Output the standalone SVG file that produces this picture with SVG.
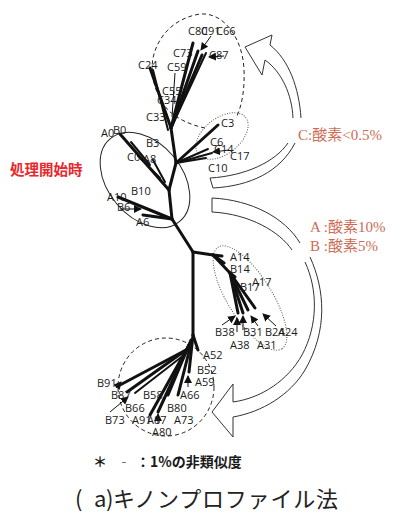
<svg xmlns="http://www.w3.org/2000/svg" width="398" height="518" viewBox="0 0 398 518">
<defs>
<marker id="ah" markerWidth="8" markerHeight="8" refX="7" refY="4" orient="auto" markerUnits="userSpaceOnUse"><path d="M0,0 L8,4 L0,8 Z" fill="#111"/></marker>
<style>
.t{font-family:"Open Sans","Noto Sans",sans-serif;font-size:11px;fill:#1a1a1a}
.br{stroke:#111;stroke-width:3;stroke-linecap:round;fill:none}
.b2{stroke-width:2}
.thin{stroke:#111;stroke-width:1;fill:none}
.ar{marker-end:url(#ah)}
.big{fill:#fff;stroke:#333;stroke-width:1}
.note{font-family:"Liberation Serif","Noto Sans CJK JP",serif;font-size:15px;fill:#cd6b55}
.dash{fill:none;stroke:#222;stroke-width:1;stroke-dasharray:4 3}
.dot{fill:none;stroke:#555;stroke-width:1;stroke-dasharray:1 1.5}
.ft{font-family:"Noto Sans CJK JP",sans-serif;font-size:14px;font-weight:bold;fill:#1a1a1a}
.ti{font-family:"Noto Sans CJK JP",sans-serif;font-size:22px;fill:#222}
</style>
</defs>
<rect width="398" height="518" fill="#fff"/>
<g id="arrows-big">
<path class="big" d="M293,118 C292,95 282,72 265,60 L262,75 L245,47 L272,35 L270,45 C289,60 299,88 301,118"/>
<path class="big" d="M295,143 C280,172 250,186 213,188 L210,178 C245,176 275,162 288,143"/>
<path class="big" d="M300,243 C285,218 252,200 212,198 L212,212 C250,214 280,232 292,250"/>
<path class="big" d="M310,257 C325,290 328,330 305,370 C290,395 262,412 233,417 L233,437 L212,412 L233,384 L233,402 C262,398 288,380 302,355 C318,325 318,290 305,262"/>
</g>
<g id="groups">
<ellipse id="g-start" cx="145" cy="180" rx="54" ry="37" transform="rotate(50 145 180)" fill="none" stroke="#222" stroke-width="1"/>
<path id="g-c" class="dash" d="M205,128 C190,125 176,118 168,110 C155,95 150,75 153,58 C158,35 175,18 200,14 C225,12 243,40 244,70 C245,95 240,110 236,118"/>
<ellipse id="g-c2" class="dot" cx="222" cy="136" rx="30" ry="18" transform="rotate(-38 222 136)"/>
<ellipse id="g-ab" class="dot" cx="250" cy="298" rx="60" ry="22" transform="rotate(58 250 298)"/>
<ellipse id="g-ab2" class="dash" cx="166" cy="387" rx="48" ry="49"/>
</g>
<g id="connectors">
<line class="br" x1="172" y1="219" x2="193" y2="252"/>
<line class="br" x1="172" y1="219" x2="169" y2="190"/>
<line class="br" x1="172" y1="219" x2="118" y2="197"/>
<line class="br b2" x1="172" y1="219" x2="140" y2="206"/>
<line class="br" x1="172" y1="219" x2="143" y2="215"/>
<line class="thin ar" x1="120" y1="209" x2="141" y2="209"/>
<line class="br" x1="169" y1="190" x2="120" y2="134"/>
<line class="br b2" x1="131" y1="142" x2="150" y2="165"/>
<line class="br b2" x1="138" y1="156" x2="160" y2="178"/>
<line class="br b2" x1="153" y1="160" x2="165" y2="182"/>
<line class="br" x1="169" y1="190" x2="176" y2="163"/>
<line class="br" x1="176" y1="163" x2="171" y2="128"/>
<line class="br" x1="176" y1="163" x2="218" y2="125"/>
<line class="br b2" x1="176" y1="163" x2="208" y2="149"/>
<line class="br b2" x1="176" y1="163" x2="212" y2="153"/>
<line class="br b2" x1="176" y1="163" x2="206" y2="158"/>
<line class="thin ar" x1="229" y1="150" x2="213" y2="152"/>
<line class="br" x1="171" y1="128" x2="150" y2="68"/>
<line class="br b2" x1="168" y1="130" x2="153" y2="70"/>
<line class="thin" x1="172" y1="117" x2="175" y2="73"/>
<line class="br" x1="171" y1="128" x2="193" y2="43"/>
<line class="br" x1="171" y1="128" x2="198" y2="51"/>
<line class="br" x1="171" y1="128" x2="202" y2="55"/>
<line class="br b2" x1="171" y1="128" x2="206" y2="53"/>
<line class="thin ar" x1="211" y1="36" x2="201" y2="50"/>
<line class="thin ar" x1="224" y1="56" x2="209" y2="57"/>
<line class="br" x1="193" y1="252" x2="213" y2="255"/>
<line class="br" x1="213" y1="255" x2="222" y2="256"/>
<line class="br" x1="213" y1="255" x2="224" y2="263"/>
<line class="br" x1="213" y1="255" x2="230" y2="273"/>
<line class="br" x1="230" y1="273" x2="235" y2="277"/>
<line class="br" x1="230" y1="273" x2="238" y2="313"/>
<line class="br" x1="230" y1="273" x2="243" y2="313"/>
<line class="br" x1="230" y1="273" x2="248" y2="310"/>
<line class="br" x1="230" y1="273" x2="255" y2="308"/>
<line class="thin ar" x1="222" y1="325" x2="235" y2="316"/>
<line class="thin ar" x1="237" y1="332" x2="237" y2="318"/>
<line class="thin ar" x1="243" y1="330" x2="243" y2="316"/>
<line class="thin ar" x1="258" y1="326" x2="251" y2="316"/>
<line class="thin ar" x1="276" y1="326" x2="263" y2="314"/>
<line class="br" x1="193" y1="252" x2="193" y2="335"/>
<line class="br" x1="193" y1="335" x2="198" y2="350"/>
<line class="br" x1="193" y1="335" x2="189" y2="372"/>
<line class="br" x1="192" y1="340" x2="178" y2="395"/>
<line class="br" x1="191" y1="340" x2="168" y2="395"/>
<line class="br" x1="189" y1="345" x2="150" y2="415"/>
<line class="br" x1="189" y1="345" x2="158" y2="412"/>
<line class="br" x1="186" y1="350" x2="120" y2="385"/>
<line class="br" x1="186" y1="350" x2="127" y2="392"/>
<line class="br b2" x1="184" y1="355" x2="135" y2="393"/>
<line class="thin ar" x1="110" y1="412" x2="128" y2="397"/>
<line class="thin ar" x1="188" y1="387" x2="188" y2="376"/>
<line class="thin ar" x1="158" y1="424" x2="158" y2="414"/>
<line class="thin ar" x1="116" y1="388" x2="121" y2="382"/>
</g>
<g id="labels">
<text class="t" x="188" y="35">C80</text><text class="t" x="201" y="35">C91</text><text class="t" x="216" y="35">C66</text>
<text class="t" x="173" y="57">C73</text><text class="t" x="209" y="59">C87</text>
<text class="t" x="138" y="69">C24</text><text class="t" x="167" y="71">C59</text>
<text class="t" x="162" y="95">C55</text><text class="t" x="157" y="104">C34</text>
<text class="t" x="146" y="121">C33</text>
<text class="t" x="221" y="127">C3</text>
<text class="t" x="210" y="146">C6</text><text class="t" x="214" y="153">C14</text><text class="t" x="230" y="160">C17</text><text class="t" x="208" y="172">C10</text>
<text class="t" x="101" y="137">A0</text><text class="t" x="113" y="134">B0</text><text class="t" x="146" y="147">B3</text><text class="t" x="127" y="161">C0</text><text class="t" x="143" y="163">A8</text>
<text class="t" x="107" y="201">A10</text><text class="t" x="131" y="195">B10</text><text class="t" x="117" y="211">B6</text><text class="t" x="136" y="226">A6</text>
<text class="t" x="230" y="261">A14</text><text class="t" x="230" y="273">B14</text><text class="t" x="252" y="286">A17</text><text class="t" x="240" y="291">B17</text>
<text class="t" x="215" y="336">B38</text><text class="t" x="243" y="336">B31</text><text class="t" x="265" y="336">B24</text><text class="t" x="278" y="336">A24</text>
<text class="t" x="230" y="349">A38</text><text class="t" x="257" y="349">A31</text>
<text class="t" x="203" y="359">A52</text><text class="t" x="197" y="374">B52</text><text class="t" x="195" y="386">A59</text><text class="t" x="180" y="399">A66</text>
<text class="t" x="167" y="412">B80</text><text class="t" x="174" y="424">A73</text><text class="t" x="152" y="436">A80</text><text class="t" x="132" y="424">A91</text><text class="t" x="147" y="424">A87</text>
<text class="t" x="105" y="424">B73</text><text class="t" x="125" y="412">B66</text><text class="t" x="111" y="399">B87</text><text class="t" x="143" y="399">B58</text><text class="t" x="97" y="387">B91</text>
</g>
<g id="notes">
<text x="10" y="175" style="font-family:'Noto Sans CJK JP',sans-serif;font-size:14.5px;font-weight:bold;fill:#e8262b">処理開始時</text>
<text class="note" x="298" y="140">C:酸素&lt;0.5%</text>
<text class="note" x="310" y="232">A :酸素10%</text>
<text class="note" x="310" y="251">B :酸素5%</text>
<text class="ft" x="93" y="467">＊</text>
<text class="ft" x="117" y="467">‐</text>
<text class="ft" x="136" y="467">：1%の非類似度</text>
<text class="ti" x="75" y="507">(</text>
<text class="ti" x="94" y="507">a</text>
<text class="ti" x="106" y="507">)</text>
<text class="ti" x="113" y="507" letter-spacing="0.8">キノンプロファイル法</text>
</g>
</svg>
